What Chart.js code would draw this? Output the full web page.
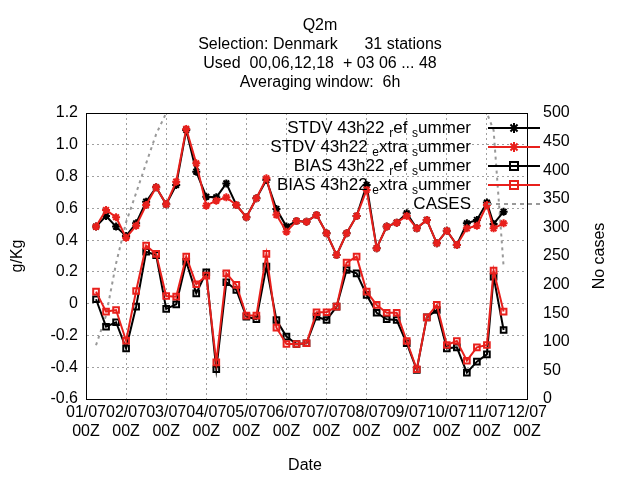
<!DOCTYPE html>
<html>
<head>
<meta charset="utf-8">
<script src="https://cdn.jsdelivr.net/npm/chart.js@4"></script>
<style>
  body { margin: 0; background: #fff; }
  #wrap { width: 640px; height: 480px; }
</style>
</head>
<body>
<div id="wrap"><canvas id="myChart" width="640" height="480"></canvas></div>
<script>
// hours since 01/07 00Z
const hours = [6,12,18,24,30,36,42,48,54,60,66,72,78,84,90,96,102,108,114,120,
  126,132,138,144,150,156,162,168,174,180,186,192,198,204,210,216,222,228,234,240,244,250];
const stdvRef = [0.485,0.552,0.485,0.426,0.506,0.642,0.732,0.625,0.747,1.093,0.831,0.673,0.669,0.757,0.621,0.544,0.663,0.778,0.596,0.485,
  0.52,0.516,0.558,0.443,0.306,0.443,0.552,0.747,0.349,0.485,0.51,0.569,0.474,0.527,0.38,0.459,0.369,0.506,0.527,0.636,0.502,0.579];
const stdvExtra = [0.485,0.59,0.544,0.415,0.49,0.621,0.732,0.625,0.768,1.1,0.883,0.617,0.648,0.669,0.621,0.544,0.663,0.789,0.559,0.453,
  0.52,0.516,0.558,0.443,0.306,0.443,0.552,0.716,0.349,0.485,0.51,0.552,0.474,0.527,0.38,0.459,0.369,0.474,0.49,0.621,0.474,0.506];
const biasRef = [0.028,-0.145,-0.117,-0.281,-0.019,0.327,0.306,-0.033,-0.004,0.264,0.065,0.198,-0.413,0.135,0.086,-0.082,-0.098,0.233,-0.103,-0.207,
  -0.254,-0.249,-0.082,-0.103,-0.019,0.212,0.191,0.055,-0.057,-0.098,-0.103,-0.249,-0.417,-0.086,-0.04,-0.281,-0.275,-0.434,-0.365,-0.319,0.17,-0.166];
const biasExtra = [0.076,-0.05,-0.04,-0.233,0.08,0.365,0.313,0.048,0.044,0.296,0.122,0.176,-0.369,0.191,0.118,-0.075,-0.075,0.313,-0.151,-0.254,
  -0.254,-0.249,-0.054,-0.054,-0.019,0.258,0.296,0.076,-0.008,-0.057,-0.057,-0.235,-0.413,-0.086,-0.008,-0.26,-0.235,-0.359,-0.275,-0.26,0.208,-0.05];
const cases = [94,146,237,309,360,412,463,500,500,500,500,500,500,500,500,500,500,500,500,500,
  500,500,500,500,500,500,500,500,500,500,500,500,500,500,500,500,500,500,500,500,470,231];
const dayLabels = ['01/07','02/07','03/07','04/07','05/07','06/07','07/07','08/07','09/07','10/07','11/07','12/07'];
const titleLines = ['Q2m', 'Selection: Denmark      31 stations', 'Used  00,06,12,18  + 03 06 ... 48', 'Averaging window:  6h'];
const legendItems = [
  { parts: [['STDV 43h22 ',0],['r',1],['ef ',0],['s',1],['ummer',0]], color: '#000', style: 'star' },
  { parts: [['STDV 43h22 ',0],['e',1],['xtra ',0],['s',1],['ummer',0]], color: '#e8201c', style: 'star' },
  { parts: [['BIAS 43h22 ',0],['r',1],['ef ',0],['s',1],['ummer',0]], color: '#000', style: 'rect' },
  { parts: [['BIAS 43h22 ',0],['e',1],['xtra ',0],['s',1],['ummer',0]], color: '#e8201c', style: 'rect' },
  { parts: [['CASES',0]], color: '#999', style: 'dash' }
];

const RED = '#e8201c';
const FONT = '"Liberation Sans", Arial, sans-serif';
const xy = vals => vals.map((v, i) => ({ x: hours[i], y: v }));

function line(label, vals, color, style, order) {
  return {
    label: label, data: xy(vals), borderColor: color, backgroundColor: 'transparent',
    pointStyle: style, pointRadius: 4, pointBorderColor: color, pointBorderWidth: 2,
    borderWidth: 2, order: order, yAxisID: 'y'
  };
}

const overlay = {
  id: 'overlay',
  afterDraw(chart) {
    const ctx = chart.ctx;
    const a = chart.chartArea;
    ctx.save();
    ctx.fillStyle = '#000';
    ctx.font = '16px ' + FONT;
    ctx.textAlign = 'center';
    ctx.textBaseline = 'middle';
    titleLines.forEach((t, i) => ctx.fillText(t, 320, 26 + i * 19));
    ctx.fillText('Date', 305, 466);
    ctx.save(); ctx.translate(18, 256); ctx.rotate(-Math.PI / 2); ctx.fillText('g/Kg', 0, 0); ctx.restore();
    ctx.save(); ctx.translate(600, 256); ctx.rotate(-Math.PI / 2); ctx.fillText('No cases', 0, 0); ctx.restore();
    // frame
    ctx.strokeStyle = '#000'; ctx.lineWidth = 1;
    ctx.strokeRect(a.left + 0.5, a.top + 0.5, a.right - a.left, a.bottom - a.top);
    // legend
    legendItems.forEach((it, i) => {
      const y = 128 + i * 19;
      let w = 0;
      it.parts.forEach(p => { ctx.font = (p[1] ? '12px ' : '17px ') + FONT; w += ctx.measureText(p[0]).width; });
      let x = 471 - w;
      ctx.textAlign = 'left';
      it.parts.forEach(p => {
        ctx.font = (p[1] ? '12px ' : '17px ') + FONT;
        ctx.fillText(p[0], x, y + (p[1] ? 6 : 0));
        x += ctx.measureText(p[0]).width;
      });
      ctx.strokeStyle = it.color; ctx.lineWidth = 2;
      ctx.setLineDash(it.style === 'dash' ? [4, 4] : []);
      ctx.beginPath(); ctx.moveTo(488, y); ctx.lineTo(540, y); ctx.stroke();
      ctx.setLineDash([]);
      if (it.style === 'rect') {
        ctx.strokeRect(510, y - 4, 8, 8);
      } else if (it.style === 'star') {
        ctx.beginPath();
        for (let k = 0; k < 4; k++) {
          const ang = k * Math.PI / 4;
          ctx.moveTo(514 - 5 * Math.cos(ang), y - 5 * Math.sin(ang));
          ctx.lineTo(514 + 5 * Math.cos(ang), y + 5 * Math.sin(ang));
        }
        ctx.stroke();
      }
    });
    ctx.restore();
  }
};

new Chart(document.getElementById('myChart').getContext('2d'), {
  type: 'line',
  data: {
    datasets: [
      line('STDV ref', stdvRef, '#000', 'star', 3),
      line('STDV extra', stdvExtra, RED, 'star', 1),
      line('BIAS ref', biasRef, '#000', 'rect', 2),
      line('BIAS extra', biasExtra, RED, 'rect', 0),
      {
        label: 'CASES', data: xy(cases), borderColor: '#999', borderDash: [3, 4], borderWidth: 2,
        pointRadius: 0, yAxisID: 'y2', order: 4
      }
    ]
  },
  options: {
    responsive: false,
    animation: false,
    layout: { padding: { top: 113, left: 0, right: 0, bottom: 0 } },
    plugins: { legend: { display: false }, title: { display: false }, tooltip: { enabled: false } },
    scales: {
      x: {
        type: 'linear', min: 0, max: 264,
        afterFit: s => { s.height = 81; },
        ticks: {
          stepSize: 24, autoSkip: false, color: '#000', font: { size: 16, family: FONT }, maxRotation: 0, padding: 4,
          callback: v => [dayLabels[v / 24], '00Z']
        },
        grid: { color: '#a0a0a0', tickLength: 0 },
        border: { dash: [2, 3], color: '#000' }
      },
      y: {
        position: 'left', min: -0.6, max: 1.2,
        afterFit: s => { s.width = 86; },
        ticks: { stepSize: 0.2, color: '#000', font: { size: 16, family: FONT }, padding: 8 },
        grid: { color: '#a0a0a0', tickLength: 0 },
        border: { dash: [2, 3], color: '#000' }
      },
      y2: {
        position: 'right', min: 0, max: 500,
        afterFit: s => { s.width = 113; },
        ticks: { stepSize: 50, color: '#000', font: { size: 16, family: FONT }, padding: 8 },
        grid: { display: false }
      }
    }
  },
  plugins: [overlay]
});
</script>
</body>
</html>
